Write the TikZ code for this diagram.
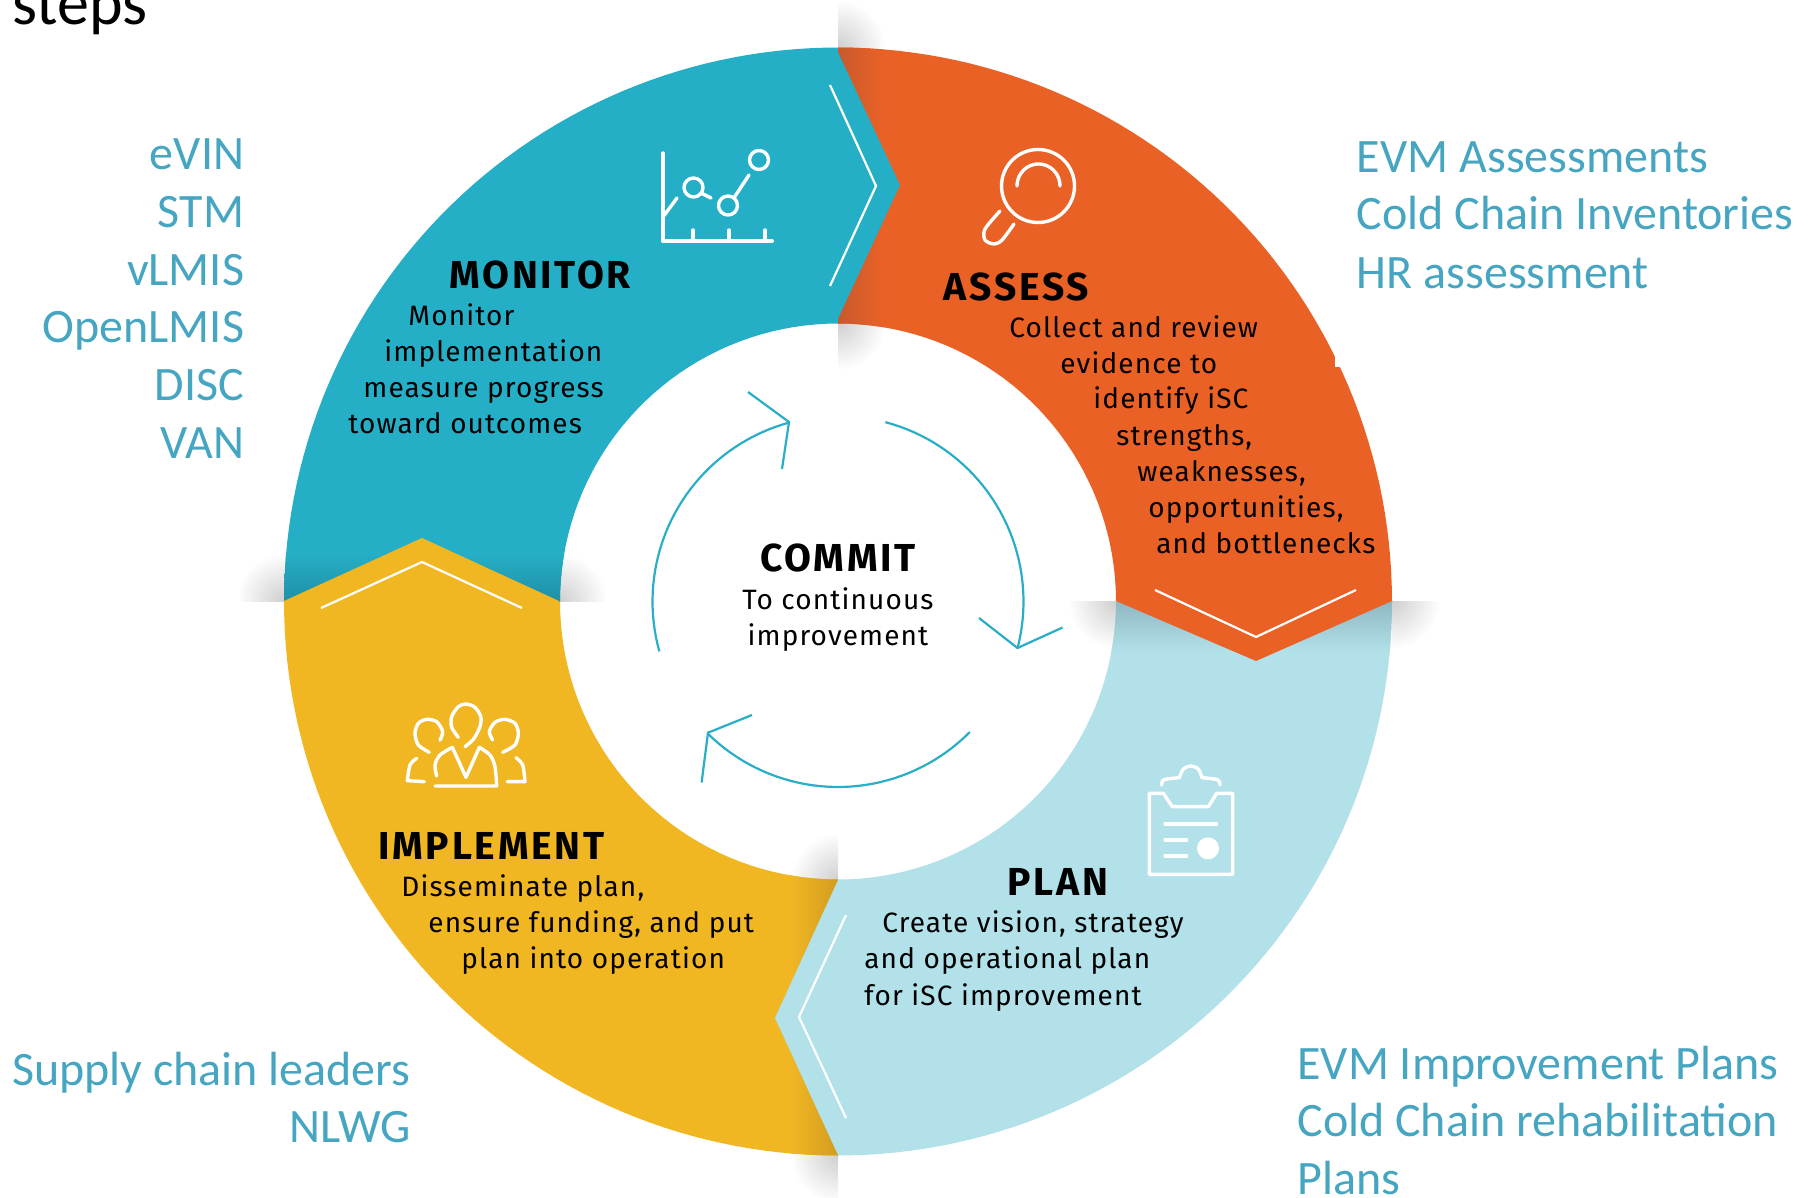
\documentclass[tikz,border=0pt]{standalone}
\usepackage{fontspec}
\setmainfont{Fira Sans}
\newfontfamily\listfont{Carlito}
\newfontfamily\bodyfont[LetterSpace=4.0]{Fira Sans}
\newfontfamily\headfont[LetterSpace=7.0]{Fira Sans Bold}
\definecolor{cteal}{HTML}{25AFC7}
\definecolor{corange}{HTML}{EA6126}
\definecolor{cyellow}{HTML}{F1B723}
\definecolor{cblue}{HTML}{B2E1E9}
\definecolor{dteal}{HTML}{1F8FA6}
\definecolor{dorange}{HTML}{C85A2C}
\definecolor{dyellow}{HTML}{D29C20}
\definecolor{dblue}{HTML}{8FB7C2}
\definecolor{clist}{HTML}{46A6C2}
\definecolor{carrow}{HTML}{2AAEC7}
\newcommand\annulus[2]{plot[domain=#1:#2,samples=60] ({838+554*cos(\x)},{601.5+554*sin(\x)}) -- plot[domain=#2:#1,samples=40] ({838+278*cos(\x)},{601.5+278*sin(\x)}) -- cycle}
\newcommand\arcpts[2]{plot[domain=#1:#2,samples=40] ({838+185.5*cos(\x)},{601.5+185.5*sin(\x)})}
\tikzset{
  listR/.style={font=\listfont\fontsize{24}{28}\selectfont,text=clist,inner sep=0,anchor=base east},
  listL/.style={font=\listfont\fontsize{24}{28}\selectfont,text=clist,inner sep=0,anchor=base west},
  bodyL/.style={font=\bodyfont\fontsize{14}{16}\selectfont,text=black,inner sep=0,anchor=base west},
  head/.style={font=\headfont\fontsize{19.5}{22}\selectfont,text=black,inner sep=0,anchor=base west},
  chev/.style={draw=white,line width=1.1pt,line join=miter},
  icon/.style={draw=white,line width=1.7pt,line cap=round,line join=round},
  cyc/.style={draw=carrow,line width=1.1pt,line join=miter},
  glow/.style={inner color=black!19,outer color=white},
}
\begin{document}
\begin{tikzpicture}[x=0.5pt,y=-0.5pt]
\useasboundingbox (0,0) rectangle (1814,1198);
\fill[white] (0,0) rectangle (1814,1198);
% soft shadows on the white ground
\begin{scope}\clip (838,0) rectangle (890,48);\shade[glow] (838,48) circle[radius=48];\end{scope}
\begin{scope}\clip (838,322) rectangle (890,372);\shade[glow] (838,322) circle[radius=48];\end{scope}
\begin{scope}\clip (1392,601) rectangle (1440,655);\shade[glow] (1392,601) circle[radius=48];\end{scope}
\begin{scope}\clip (1070,601) rectangle (1116,655);\shade[glow] (1116,601) circle[radius=48];\end{scope}
\begin{scope}\clip (240,550) rectangle (284,601);\shade[glow] (284,601) circle[radius=48];\end{scope}
\begin{scope}\clip (559,550) rectangle (605,601);\shade[glow] (559,601) circle[radius=48];\end{scope}
\begin{scope}\clip (786,1155) rectangle (838,1198);\shade[glow] (838,1155) circle[radius=48];\end{scope}
\begin{scope}\clip (786,835) rectangle (838,881);\shade[glow] (838,881) circle[radius=48];\end{scope}
% quadrants
\fill[cteal] \annulus{180}{270};
\fill[corange] \annulus{270}{360};
\fill[cblue] \annulus{0}{90};
\fill[cyellow] \annulus{90}{180};
% darkening at the seams
\begin{scope}\clip \annulus{180}{270};\shade[top color=cteal,bottom color=dteal] (270,553) rectangle (570,602);\end{scope}
\begin{scope}\clip \annulus{270}{360};\shade[left color=dorange,right color=corange] (838,40) rectangle (884,330);\end{scope}
\begin{scope}\clip \annulus{0}{90};\shade[top color=dblue,bottom color=cblue] (1105,601) rectangle (1400,652);\end{scope}
\begin{scope}\clip \annulus{90}{180};\shade[left color=cyellow,right color=dyellow] (790,870) rectangle (838,1160);\end{scope}
% pointed tips
\fill[cteal] (836,48) -- (900,185) -- (836,323) -- cycle;
\fill[corange] (1116,599) -- (1116,601) -- (1256,661) -- (1392,601) -- (1392,599) -- cycle;
\fill[cblue] (840,880) -- (838,880) -- (775,1018) -- (838,1155) -- (840,1155) -- cycle;
\fill[cyellow] (284,603) -- (284,601) -- (422,538) -- (559,601) -- (559,603) -- cycle;
\fill[white] (1335,356) rectangle (1341,367);
% chevrons
\draw[chev] (830,85) -- (876,186) -- (830,286);
\draw[chev] (1155,590) -- (1256,637) -- (1356,590);
\draw[chev] (846,915) -- (799,1017) -- (846,1118);
\draw[chev] (321,608) -- (422,562) -- (522,608);
% cycle arrows
\draw[cyc] \arcpts{164.4}{254.7};
\draw[cyc] (748,392) -- (789,422) -- (782,469);
\draw[cyc] \arcpts{-75.2}{14.7};
\draw[cyc] (979,618) -- (1017.5,648) -- (1062.6,627.5);
\draw[cyc] \arcpts{44.7}{134.6};
\draw[cyc] (752,715) -- (708,732.7) -- (701.6,782.5);
% chart icon
\draw[icon] (663,153) -- (663,241);
\draw[icon,line width=2pt] (663,241) -- (772,241);
\draw[icon] (693,230) -- (693,241) (729,230) -- (729,241) (765,230) -- (765,241);
\draw[icon] (693.5,187.5) circle[radius=9.5] (728,205.5) circle[radius=9.5] (759,160) circle[radius=9.5];
\draw[icon] (663,217) -- (677,198) (701,193) -- (711,198) (734.5,197) -- (749,175);
% magnifier icon
\draw[icon] (1038,186) circle[radius=36.5];
\draw[icon] plot[domain=180:360,samples=30] ({1038.5+21.5*cos(\x)},{186+22*sin(\x)});
\draw[icon] plot[smooth] coordinates {(1000,211) (985,229) (985,240) (994,244) (1002,240) (1014,224)};
% people icon
\begin{scope}[shift={(390,690)},scale=1/3]
\draw[icon] plot[smooth] coordinates {(205,142) (185,112) (185,80) (205,50) (228,42) (255,52) (273,82) (268,115) (250,148) (225,170)};
\draw[icon] plot[smooth] coordinates {(150,150) (158,125) (140,95) (110,88) (85,100) (75,130) (85,165) (118,187)};
\draw[icon] plot[smooth] coordinates {(308,150) (298,125) (315,97) (345,88) (375,100) (385,130) (375,165) (338,187)};
\draw[icon] plot[smooth] coordinates {(140,258) (135,225) (150,195) (187,172)} -- (228,262) -- (268,172) -- plot[smooth] coordinates {(268,172) (300,195) (315,230) (320,288)} -- (135,288);
\draw[icon] plot[smooth] coordinates {(80,205) (60,225) (52,272)} -- (103,275);
\draw[icon] plot[smooth] coordinates {(378,203) (398,225) (405,275)} -- (352,275);
\end{scope}
% clipboard icon
\begin{scope}[shift={(1130,755)},scale=1/3]
\draw[icon] (58,115) -- (100,115) -- (127,155) -- (235,155) -- (260,115) -- (308,115) -- (308,358) -- (58,358) -- cycle;
\draw[icon] plot[smooth] coordinates {(95,90) (102,74) (148,68)} -- plot[smooth] coordinates {(148,68) (160,42) (182,33) (205,42) (216,68)} -- plot[smooth] coordinates {(216,68) (262,74) (270,90)};
\draw[icon] (105,207) -- (260,207) (105,255) -- (170,255) (105,303) -- (170,303);
\fill[white] (234,280) circle[radius=33];
\end{scope}
% outside lists
\node[font=\listfont\fontsize{32}{36}\selectfont,inner sep=0,anchor=base west] (steps) at (12,25) {steps};
\node[listR] (l1) at (244.5,170) {eVIN};
\node[listR] (l2) at (244.5,227.5) {STM};
\node[listR] (l3) at (244.5,285.5) {vLMIS};
\node[listR] (l4) at (244.5,343) {OpenLMIS};
\node[listR] (l5) at (244.5,400.5) {DISC};
\node[listR] (l6) at (244.5,458) {VAN};
\node[listL] (a1) at (1356.5,173) {EVM Assessments};
\node[listL] (a2) at (1356.5,230) {Cold Chain Inventories};
\node[listL] (a3) at (1356.5,288) {HR assessment};
\node[listR] (s1) at (411,1085) {Supply chain leaders};
\node[listR] (s2) at (411,1142) {NLWG};
\node[listL] (e1) at (1297,1079) {EVM Improvement Plans};
\node[listL] (e2) at (1297,1136.5) {Cold Chain rehabilitation};
\node[listL] (e3) at (1297,1194) {Plans};
% monitor
\node[head] (mh) at (449,288.5) {MONITOR};
\node[bodyL] (m1) at (408,325.5) {Monitor};
\node[bodyL] (m2) at (384,361.5) {implementation};
\node[bodyL] (m3) at (363,397.5) {measure progress};
\node[bodyL] (m4) at (348,433.5) {toward outcomes};
% assess
\node[head] (ah) at (943.5,300.5) {ASSESS};
\node[bodyL] (b1) at (1009,337) {Collect and review};
\node[bodyL] (b2) at (1060,373) {evidence to};
\node[bodyL] (b3) at (1093,408) {identify iSC};
\node[bodyL] (b4) at (1116,445) {strengths,};
\node[bodyL] (b5) at (1137,481) {weaknesses,};
\node[bodyL] (b6) at (1148,517) {opportunities,};
\node[bodyL] (b7) at (1156,553) {and bottlenecks};
% commit
\node[head,anchor=base] (ch) at (838,571.5) {COMMIT};
\node[bodyL,anchor=base] (c1) at (838,609) {To continuous};
\node[bodyL,anchor=base] (c2) at (838,645) {improvement};
% implement
\node[head] (ih) at (378,859) {IMPLEMENT};
\node[bodyL] (i1) at (401,896) {Disseminate plan,};
\node[bodyL] (i2) at (428,932) {ensure funding, and put};
\node[bodyL] (i3) at (461,968) {plan into operation};
% plan
\node[head] (ph) at (1007,895) {PLAN};
\node[bodyL] (p1) at (882,932) {Create vision, strategy};
\node[bodyL] (p2) at (864,968) {and operational plan};
\node[bodyL] (p3) at (864,1005) {for iSC improvement};
\end{tikzpicture}
\end{document}
